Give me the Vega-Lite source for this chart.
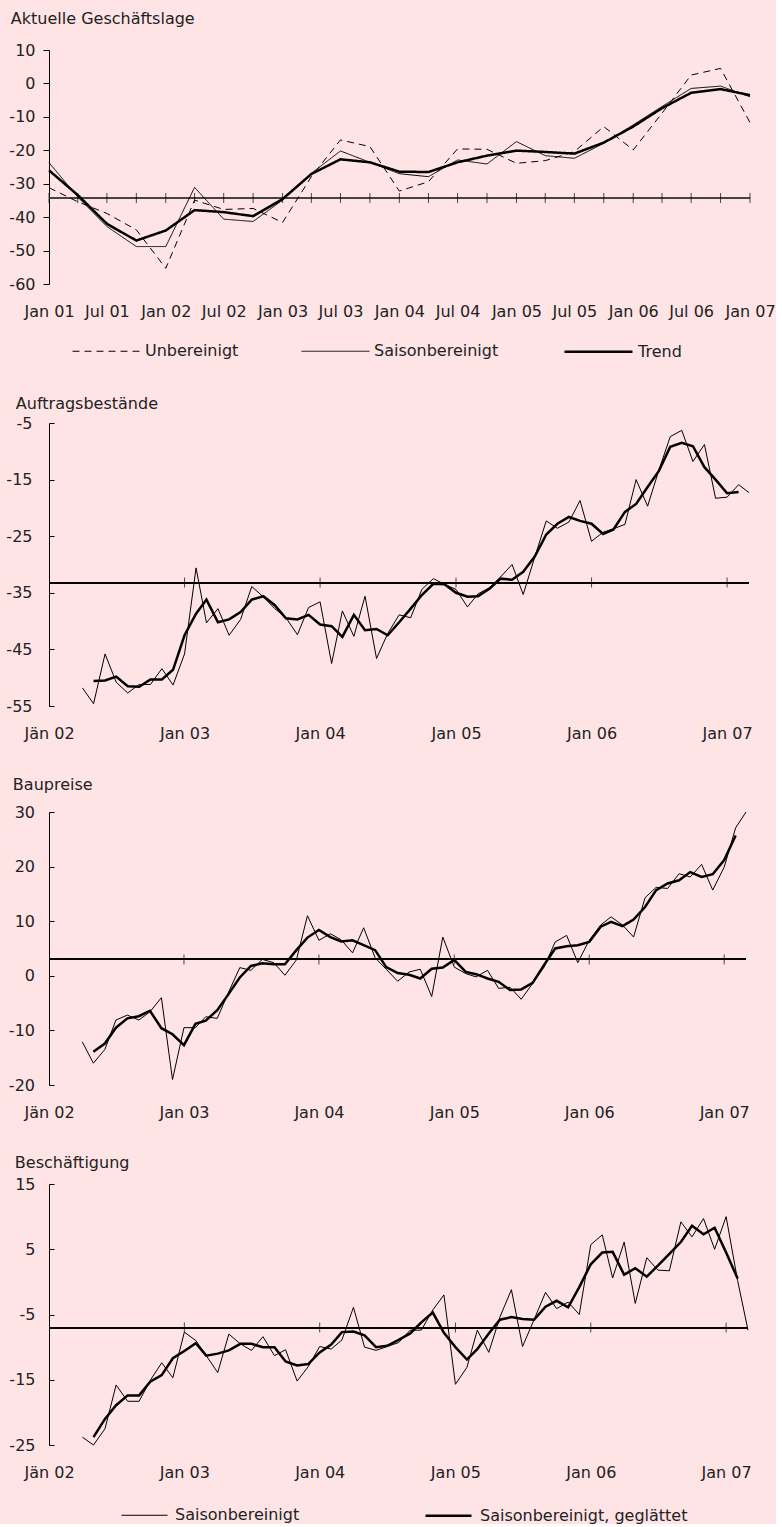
{
  "$schema": "https://vega.github.io/schema/vega-lite/v6.json",
  "background": "#FFE4E6",
  "padding": {"left": 5, "top": 11, "right": 0, "bottom": 0},
  "config": {
    "font": "DejaVu Sans",
    "view": {"stroke": null},
    "axis": {"labelFontSize": 16, "labelColor": "#222", "grid": false, "labelFont": "DejaVu Sans", "tickCount": 30},
    "axisX": {"domain": false, "ticks": false, "labelPadding": 19, "labelFlush": false, "labelOverlap": false},
    "axisY": {"domainColor": "#000", "tickColor": "#000", "labelPadding": 8, "tickSize": 6, "labelOverlap": false},
    "title": {"fontSize": 16, "fontWeight": "normal", "color": "#222", "anchor": "start", "frame": "bounds", "font": "DejaVu Sans"},
    "legend": {"labelFontSize": 16, "labelColor": "#222", "symbolStrokeColor": "#000", "symbolType": "stroke", "labelFont": "DejaVu Sans", "labelLimit": 400}
  },
  "spacing": 36,
  "resolve": {"scale": {"strokeDash": "independent", "strokeWidth": "independent"}, "legend": {"strokeDash": "independent", "strokeWidth": "independent"}},
  "datasets": {
    "jahre": [{"d": "2003-01-01"}, {"d": "2004-01-01"}, {"d": "2005-01-01"}, {"d": "2006-01-01"}, {"d": "2007-01-01"}],
    "lage": [
      {"d": "2001-01-01", "unb": -31.2, "sa": -23.7, "tr": -26.0},
      {"d": "2001-04-01", "unb": -35.4, "sa": -34.0, "tr": -33.4},
      {"d": "2001-07-01", "unb": -38.9, "sa": -42.8, "tr": -42.0},
      {"d": "2001-10-01", "unb": -43.8, "sa": -48.8, "tr": -47.0},
      {"d": "2002-01-01", "unb": -55.3, "sa": -48.8, "tr": -44.0},
      {"d": "2002-04-01", "unb": -34.9, "sa": -31.1, "tr": -37.9},
      {"d": "2002-07-01", "unb": -37.7, "sa": -40.6, "tr": -38.5},
      {"d": "2002-10-01", "unb": -37.4, "sa": -41.3, "tr": -39.7},
      {"d": "2003-01-01", "unb": -41.6, "sa": -34.9, "tr": -34.6},
      {"d": "2003-04-01", "unb": -27.9, "sa": -26.9, "tr": -27.1},
      {"d": "2003-07-01", "unb": -16.9, "sa": -20.2, "tr": -22.7},
      {"d": "2003-10-01", "unb": -18.9, "sa": -23.6, "tr": -23.6},
      {"d": "2004-01-01", "unb": -32.2, "sa": -27.0, "tr": -26.4},
      {"d": "2004-04-01", "unb": -29.4, "sa": -27.9, "tr": -26.5},
      {"d": "2004-07-01", "unb": -19.6, "sa": -22.9, "tr": -23.6},
      {"d": "2004-10-01", "unb": -19.7, "sa": -24.1, "tr": -21.6},
      {"d": "2005-01-01", "unb": -23.9, "sa": -17.4, "tr": -20.1},
      {"d": "2005-04-01", "unb": -23.1, "sa": -21.6, "tr": -20.5},
      {"d": "2005-07-01", "unb": -20.4, "sa": -22.4, "tr": -21.0},
      {"d": "2005-10-01", "unb": -12.9, "sa": -17.9, "tr": -17.7},
      {"d": "2006-01-01", "unb": -19.9, "sa": -12.4, "tr": -12.9},
      {"d": "2006-04-01", "unb": -8.9, "sa": -6.9, "tr": -7.4},
      {"d": "2006-07-01", "unb": 2.5, "sa": -1.5, "tr": -2.8},
      {"d": "2006-10-01", "unb": 4.5, "sa": -0.8, "tr": -1.7},
      {"d": "2007-01-01", "unb": -11.7, "sa": -4.0, "tr": -3.5}
    ],
    "auftr": [
      {"d": "2002-04-01", "sa": -51.8, "gl": null},
      {"d": "2002-05-01", "sa": -54.6, "gl": -50.6},
      {"d": "2002-06-01", "sa": -45.8, "gl": -50.5},
      {"d": "2002-07-01", "sa": -50.8, "gl": -49.8},
      {"d": "2002-08-01", "sa": -52.7, "gl": -51.5},
      {"d": "2002-09-01", "sa": -51.2, "gl": -51.6},
      {"d": "2002-10-01", "sa": -51.2, "gl": -50.3},
      {"d": "2002-11-01", "sa": -48.4, "gl": -50.3},
      {"d": "2002-12-01", "sa": -51.3, "gl": -48.6},
      {"d": "2003-01-01", "sa": -45.8, "gl": -42.5},
      {"d": "2003-02-01", "sa": -30.6, "gl": -38.7},
      {"d": "2003-03-01", "sa": -40.3, "gl": -36.2},
      {"d": "2003-04-01", "sa": -37.8, "gl": -40.2},
      {"d": "2003-05-01", "sa": -42.5, "gl": -39.7},
      {"d": "2003-06-01", "sa": -39.7, "gl": -38.4},
      {"d": "2003-07-01", "sa": -33.9, "gl": -36.2},
      {"d": "2003-08-01", "sa": -35.7, "gl": -35.6},
      {"d": "2003-09-01", "sa": -37.8, "gl": -37.2},
      {"d": "2003-10-01", "sa": -39.4, "gl": -39.5},
      {"d": "2003-11-01", "sa": -42.4, "gl": -39.7},
      {"d": "2003-12-01", "sa": -37.6, "gl": -38.9},
      {"d": "2004-01-01", "sa": -36.6, "gl": -40.6},
      {"d": "2004-02-01", "sa": -47.5, "gl": -40.9},
      {"d": "2004-03-01", "sa": -38.2, "gl": -42.8},
      {"d": "2004-04-01", "sa": -42.7, "gl": -38.9},
      {"d": "2004-05-01", "sa": -35.6, "gl": -41.6},
      {"d": "2004-06-01", "sa": -46.6, "gl": -41.4},
      {"d": "2004-07-01", "sa": -42.2, "gl": -42.5},
      {"d": "2004-08-01", "sa": -38.9, "gl": -40.2},
      {"d": "2004-09-01", "sa": -39.4, "gl": -37.8},
      {"d": "2004-10-01", "sa": -34.4, "gl": -35.4},
      {"d": "2004-11-01", "sa": -32.5, "gl": -33.4},
      {"d": "2004-12-01", "sa": -33.5, "gl": -33.5},
      {"d": "2005-01-01", "sa": -34.4, "gl": -35.0},
      {"d": "2005-02-01", "sa": -37.5, "gl": -35.7},
      {"d": "2005-03-01", "sa": -35.2, "gl": -35.6},
      {"d": "2005-04-01", "sa": -34.1, "gl": -34.3},
      {"d": "2005-05-01", "sa": -32.2, "gl": -32.5},
      {"d": "2005-06-01", "sa": -30.0, "gl": -32.7},
      {"d": "2005-07-01", "sa": -35.3, "gl": -31.3},
      {"d": "2005-08-01", "sa": -28.7, "gl": -28.6},
      {"d": "2005-09-01", "sa": -22.3, "gl": -24.7},
      {"d": "2005-10-01", "sa": -23.6, "gl": -22.8},
      {"d": "2005-11-01", "sa": -22.5, "gl": -21.6},
      {"d": "2005-12-01", "sa": -18.7, "gl": -22.3},
      {"d": "2006-01-01", "sa": -25.9, "gl": -22.8},
      {"d": "2006-02-01", "sa": -24.3, "gl": -24.6},
      {"d": "2006-03-01", "sa": -23.7, "gl": -23.8},
      {"d": "2006-04-01", "sa": -22.9, "gl": -20.7},
      {"d": "2006-05-01", "sa": -15.0, "gl": -19.3},
      {"d": "2006-06-01", "sa": -19.7, "gl": -16.3},
      {"d": "2006-07-01", "sa": -13.4, "gl": -13.5},
      {"d": "2006-08-01", "sa": -7.4, "gl": -9.2},
      {"d": "2006-09-01", "sa": -6.3, "gl": -8.5},
      {"d": "2006-10-01", "sa": -11.8, "gl": -9.1},
      {"d": "2006-11-01", "sa": -8.8, "gl": -12.8},
      {"d": "2006-12-01", "sa": -18.3, "gl": -15.0},
      {"d": "2007-01-01", "sa": -18.1, "gl": -17.4},
      {"d": "2007-02-01", "sa": -15.9, "gl": -17.2},
      {"d": "2007-03-01", "sa": -17.3, "gl": null}
    ],
    "bau": [
      {"d": "2002-04-01", "sa": -12.1, "gl": null},
      {"d": "2002-05-01", "sa": -16.0, "gl": -13.9},
      {"d": "2002-06-01", "sa": -13.5, "gl": -12.4},
      {"d": "2002-07-01", "sa": -8.1, "gl": -9.5},
      {"d": "2002-08-01", "sa": -7.2, "gl": -7.8},
      {"d": "2002-09-01", "sa": -8.1, "gl": -7.4},
      {"d": "2002-10-01", "sa": -6.6, "gl": -6.4},
      {"d": "2002-11-01", "sa": -4.0, "gl": -9.6},
      {"d": "2002-12-01", "sa": -19.0, "gl": -10.7},
      {"d": "2003-01-01", "sa": -9.5, "gl": -12.7},
      {"d": "2003-02-01", "sa": -9.5, "gl": -8.8},
      {"d": "2003-03-01", "sa": -7.5, "gl": -8.2},
      {"d": "2003-04-01", "sa": -7.8, "gl": -6.3},
      {"d": "2003-05-01", "sa": -3.1, "gl": -3.4},
      {"d": "2003-06-01", "sa": 1.5, "gl": -0.3},
      {"d": "2003-07-01", "sa": 1.0, "gl": 1.8},
      {"d": "2003-08-01", "sa": 3.0, "gl": 2.3},
      {"d": "2003-09-01", "sa": 2.4, "gl": 2.1},
      {"d": "2003-10-01", "sa": 0.1, "gl": 2.1},
      {"d": "2003-11-01", "sa": 2.9, "gl": 4.7},
      {"d": "2003-12-01", "sa": 11.0, "gl": 7.0},
      {"d": "2004-01-01", "sa": 6.5, "gl": 8.4},
      {"d": "2004-02-01", "sa": 7.7, "gl": 7.1},
      {"d": "2004-03-01", "sa": 6.6, "gl": 6.3},
      {"d": "2004-04-01", "sa": 4.2, "gl": 6.5},
      {"d": "2004-05-01", "sa": 8.8, "gl": 5.6},
      {"d": "2004-06-01", "sa": 3.3, "gl": 4.7},
      {"d": "2004-07-01", "sa": 1.2, "gl": 1.6},
      {"d": "2004-08-01", "sa": -1.0, "gl": 0.5},
      {"d": "2004-09-01", "sa": 0.7, "gl": 0.2},
      {"d": "2004-10-01", "sa": 1.2, "gl": -0.5},
      {"d": "2004-11-01", "sa": -3.8, "gl": 1.3},
      {"d": "2004-12-01", "sa": 7.1, "gl": 1.5},
      {"d": "2005-01-01", "sa": 1.6, "gl": 2.9},
      {"d": "2005-02-01", "sa": 0.4, "gl": 0.7},
      {"d": "2005-03-01", "sa": -0.2, "gl": 0.3},
      {"d": "2005-04-01", "sa": 1.0, "gl": -0.5},
      {"d": "2005-05-01", "sa": -2.3, "gl": -1.1},
      {"d": "2005-06-01", "sa": -2.1, "gl": -2.6},
      {"d": "2005-07-01", "sa": -4.3, "gl": -2.5},
      {"d": "2005-08-01", "sa": -1.4, "gl": -1.3},
      {"d": "2005-09-01", "sa": 1.6, "gl": 2.0},
      {"d": "2005-10-01", "sa": 6.2, "gl": 5.0},
      {"d": "2005-11-01", "sa": 7.4, "gl": 5.4},
      {"d": "2005-12-01", "sa": 2.4, "gl": 5.6},
      {"d": "2006-01-01", "sa": 6.5, "gl": 6.2},
      {"d": "2006-02-01", "sa": 9.3, "gl": 9.0},
      {"d": "2006-03-01", "sa": 10.8, "gl": 9.9},
      {"d": "2006-04-01", "sa": 9.3, "gl": 9.1},
      {"d": "2006-05-01", "sa": 7.1, "gl": 10.3},
      {"d": "2006-06-01", "sa": 14.3, "gl": 12.6},
      {"d": "2006-07-01", "sa": 16.2, "gl": 15.7},
      {"d": "2006-08-01", "sa": 16.0, "gl": 16.9},
      {"d": "2006-09-01", "sa": 18.7, "gl": 17.5},
      {"d": "2006-10-01", "sa": 18.1, "gl": 19.0},
      {"d": "2006-11-01", "sa": 20.4, "gl": 18.1},
      {"d": "2006-12-01", "sa": 15.7, "gl": 18.6},
      {"d": "2007-01-01", "sa": 19.9, "gl": 21.2},
      {"d": "2007-02-01", "sa": 27.1, "gl": 25.7},
      {"d": "2007-03-01", "sa": 30.0, "gl": null}
    ],
    "besch": [
      {"d": "2002-04-01", "sa": -23.8, "gl": null},
      {"d": "2002-05-01", "sa": -25.0, "gl": -23.8},
      {"d": "2002-06-01", "sa": -22.5, "gl": -21.0},
      {"d": "2002-07-01", "sa": -15.8, "gl": -18.9},
      {"d": "2002-08-01", "sa": -18.3, "gl": -17.4},
      {"d": "2002-09-01", "sa": -18.3, "gl": -17.4},
      {"d": "2002-10-01", "sa": -15.1, "gl": -15.3},
      {"d": "2002-11-01", "sa": -12.4, "gl": -14.3},
      {"d": "2002-12-01", "sa": -14.7, "gl": -11.7},
      {"d": "2003-01-01", "sa": -7.7, "gl": -10.6},
      {"d": "2003-02-01", "sa": -9.0, "gl": -9.4},
      {"d": "2003-03-01", "sa": -11.3, "gl": -11.3},
      {"d": "2003-04-01", "sa": -13.9, "gl": -11.0},
      {"d": "2003-05-01", "sa": -8.0, "gl": -10.5},
      {"d": "2003-06-01", "sa": -9.5, "gl": -9.5},
      {"d": "2003-07-01", "sa": -10.5, "gl": -9.5},
      {"d": "2003-08-01", "sa": -8.4, "gl": -10.0},
      {"d": "2003-09-01", "sa": -11.3, "gl": -10.0},
      {"d": "2003-10-01", "sa": -10.4, "gl": -12.2},
      {"d": "2003-11-01", "sa": -15.2, "gl": -12.8},
      {"d": "2003-12-01", "sa": -13.0, "gl": -12.6},
      {"d": "2004-01-01", "sa": -9.9, "gl": -10.8},
      {"d": "2004-02-01", "sa": -10.3, "gl": -9.6},
      {"d": "2004-03-01", "sa": -8.9, "gl": -7.7},
      {"d": "2004-04-01", "sa": -3.9, "gl": -7.6},
      {"d": "2004-05-01", "sa": -10.0, "gl": -8.2},
      {"d": "2004-06-01", "sa": -10.5, "gl": -10.0},
      {"d": "2004-07-01", "sa": -9.9, "gl": -9.8},
      {"d": "2004-08-01", "sa": -9.3, "gl": -8.9},
      {"d": "2004-09-01", "sa": -7.4, "gl": -7.9},
      {"d": "2004-10-01", "sa": -7.4, "gl": -6.2},
      {"d": "2004-11-01", "sa": -4.3, "gl": -4.7},
      {"d": "2004-12-01", "sa": -2.0, "gl": -7.8},
      {"d": "2005-01-01", "sa": -15.7, "gl": -10.0},
      {"d": "2005-02-01", "sa": -13.1, "gl": -11.9},
      {"d": "2005-03-01", "sa": -7.4, "gl": -10.3},
      {"d": "2005-04-01", "sa": -10.8, "gl": -7.9},
      {"d": "2005-05-01", "sa": -5.4, "gl": -5.8},
      {"d": "2005-06-01", "sa": -1.2, "gl": -5.4},
      {"d": "2005-07-01", "sa": -9.9, "gl": -5.7},
      {"d": "2005-08-01", "sa": -5.8, "gl": -5.8},
      {"d": "2005-09-01", "sa": -1.6, "gl": -3.8},
      {"d": "2005-10-01", "sa": -4.1, "gl": -2.9},
      {"d": "2005-11-01", "sa": -3.1, "gl": -3.9},
      {"d": "2005-12-01", "sa": -5.0, "gl": -0.8},
      {"d": "2006-01-01", "sa": 5.7, "gl": 2.7},
      {"d": "2006-02-01", "sa": 7.2, "gl": 4.5},
      {"d": "2006-03-01", "sa": 0.6, "gl": 4.6},
      {"d": "2006-04-01", "sa": 6.1, "gl": 1.1},
      {"d": "2006-05-01", "sa": -3.3, "gl": 2.1},
      {"d": "2006-06-01", "sa": 3.7, "gl": 0.8},
      {"d": "2006-07-01", "sa": 1.8, "gl": 2.5},
      {"d": "2006-08-01", "sa": 1.7, "gl": 4.3},
      {"d": "2006-09-01", "sa": 9.2, "gl": 6.1},
      {"d": "2006-10-01", "sa": 6.9, "gl": 8.6},
      {"d": "2006-11-01", "sa": 9.7, "gl": 7.3},
      {"d": "2006-12-01", "sa": 5.0, "gl": 8.3},
      {"d": "2007-01-01", "sa": 10.0, "gl": 4.5},
      {"d": "2007-02-01", "sa": 0.2, "gl": 0.5},
      {"d": "2007-03-01", "sa": -7.4, "gl": null}
    ]
  },
  "vconcat": [
    {
      "title": {"text": "Aktuelle Geschäftslage", "offset": 15, "dx": 2},
      "width": 701,
      "height": 234,
      "data": {"name": "lage"},
      "layer": [
        {"mark": {"type": "rule", "color": "#444", "strokeWidth": 1.5}, "encoding": {"y": {"datum": -34.3, "type": "quantitative"}}},
        {"mark": {"type": "tick", "orient": "vertical", "size": 10, "thickness": 1, "color": "#000"},
         "encoding": {"x": {"field": "d", "type": "temporal", "title": null}, "y": {"datum": -34.3, "type": "quantitative"}}},
        {
          "transform": [{"fold": ["unb", "sa", "tr"], "as": ["series", "value"]}],
          "mark": {"type": "line", "color": "#000"},
          "encoding": {
            "x": {"field": "d", "type": "temporal", "title": null,
              "scale": {"type": "utc", "nice": false, "domain": [{"year": 2001, "month": 1, "date": 1, "utc": true}, {"year": 2007, "month": 1, "date": 1, "utc": true}]},
              "axis": {"title": null, "tickCount": 30, "labelOverlap": false, "labelExpr": "utcFormat(datum.value, '%b %y')",
                "values": [
                  {"year": 2001, "month": 1, "date": 1, "utc": true}, {"year": 2001, "month": 7, "date": 1, "utc": true},
                  {"year": 2002, "month": 1, "date": 1, "utc": true}, {"year": 2002, "month": 7, "date": 1, "utc": true},
                  {"year": 2003, "month": 1, "date": 1, "utc": true}, {"year": 2003, "month": 7, "date": 1, "utc": true},
                  {"year": 2004, "month": 1, "date": 1, "utc": true}, {"year": 2004, "month": 7, "date": 1, "utc": true},
                  {"year": 2005, "month": 1, "date": 1, "utc": true}, {"year": 2005, "month": 7, "date": 1, "utc": true},
                  {"year": 2006, "month": 1, "date": 1, "utc": true}, {"year": 2006, "month": 7, "date": 1, "utc": true},
                  {"year": 2007, "month": 1, "date": 1, "utc": true}]}},
            "y": {"field": "value", "type": "quantitative", "title": null, "scale": {"domain": [-60, 10], "nice": false, "zero": false},
              "axis": {"title": null, "tickCount": 30, "labelOverlap": false, "labelExpr": "'' + datum.value", "values": [10, 0, -10, -20, -30, -40, -50, -60]}},
            "strokeDash": {"field": "series", "type": "nominal",
              "scale": {"domain": ["unb", "sa", "tr"], "range": [[7, 5], [1, 0], [1, 0]]},
              "legend": {"title": null, "orient": "none", "legendX": 23, "legendY": 266, "direction": "horizontal", "symbolSize": 4624, "labelOffset": 4, "columnPadding": 60,
                "labelExpr": "datum.label == 'unb' ? 'Unbereinigt' : datum.label == 'sa' ? 'Saisonbereinigt' : 'Trend'"}},
            "strokeWidth": {"field": "series", "type": "nominal",
              "scale": {"type": "ordinal", "domain": ["unb", "sa", "tr"], "range": [1, 1, 2.5]},
              "legend": {"title": null, "orient": "none", "legendX": 23, "legendY": 266, "direction": "horizontal", "symbolSize": 4624, "labelOffset": 4, "columnPadding": 60,
                "labelExpr": "datum.label == 'unb' ? 'Unbereinigt' : datum.label == 'sa' ? 'Saisonbereinigt' : 'Trend'"}}
          }
        }
      ]
    },
    {
      "spacing": 35,
      "resolve": {"scale": {"strokeWidth": "independent"}, "legend": {"strokeWidth": "independent"}},
      "vconcat": [
        {
          "title": {"text": "Auftragsbestände", "offset": 3, "dx": 10},
          "width": 700,
          "height": 283,
          "layer": [
            {"data": {"name": "auftr"}, "mark": {"type": "rule", "color": "#000", "strokeWidth": 1}, "encoding": {"y": {"datum": -33.2, "type": "quantitative"}}},
            {"data": {"name": "jahre"}, "mark": {"type": "tick", "orient": "vertical", "size": 10, "thickness": 1, "color": "#000"},
             "encoding": {"x": {"field": "d", "type": "temporal", "title": null}, "y": {"datum": -33.2, "type": "quantitative"}}},
            {
              "data": {"name": "auftr"},
              "transform": [{"fold": ["sa", "gl"], "as": ["series", "value"]}],
              "mark": {"type": "line", "color": "#000"},
              "encoding": {
                "x": {"field": "d", "type": "temporal", "title": null,
                  "scale": {"type": "utc", "nice": false, "domain": [{"year": 2002, "month": 1, "date": 1, "utc": true}, {"year": 2007, "month": 3, "date": 1, "utc": true}]},
                  "axis": {"title": null, "tickCount": 30, "labelOverlap": false, "labelExpr": "utcyear(datum.value) == 2002 ? 'Jän 02' : utcFormat(datum.value, '%b %y')",
                    "values": [{"year": 2002, "month": 1, "date": 1, "utc": true}, {"year": 2003, "month": 1, "date": 1, "utc": true}, {"year": 2004, "month": 1, "date": 1, "utc": true}, {"year": 2005, "month": 1, "date": 1, "utc": true}, {"year": 2006, "month": 1, "date": 1, "utc": true}, {"year": 2007, "month": 1, "date": 1, "utc": true}]}},
                "y": {"field": "value", "type": "quantitative", "title": null, "scale": {"domain": [-55, -5], "nice": false, "zero": false},
                  "axis": {"title": null, "tickCount": 30, "labelOverlap": false, "labelExpr": "'' + datum.value", "values": [-5, -15, -25, -35, -45, -55], "tickSize": -5, "labelPadding": 22}},
                "strokeWidth": {"field": "series", "type": "nominal", "scale": {"type": "ordinal", "domain": ["sa", "gl"], "range": [1, 2.5]}, "legend": null}
              }
            }
          ]
        },
        {
          "title": {"text": "Baupreise", "offset": 11.4, "dx": 4.5},
          "width": 697,
          "height": 273,
          "layer": [
            {"data": {"name": "bau"}, "mark": {"type": "rule", "color": "#000", "strokeWidth": 1}, "encoding": {"y": {"datum": 3.0, "type": "quantitative"}}},
            {"data": {"name": "jahre"}, "mark": {"type": "tick", "orient": "vertical", "size": 10, "thickness": 1, "color": "#000"},
             "encoding": {"x": {"field": "d", "type": "temporal", "title": null}, "y": {"datum": 3.0, "type": "quantitative"}}},
            {
              "data": {"name": "bau"},
              "transform": [{"fold": ["sa", "gl"], "as": ["series", "value"]}],
              "mark": {"type": "line", "color": "#000"},
              "encoding": {
                "x": {"field": "d", "type": "temporal", "title": null,
                  "scale": {"type": "utc", "nice": false, "domain": [{"year": 2002, "month": 1, "date": 1, "utc": true}, {"year": 2007, "month": 3, "date": 1, "utc": true}]},
                  "axis": {"title": null, "tickCount": 30, "labelOverlap": false, "labelExpr": "utcyear(datum.value) == 2002 ? 'Jän 02' : utcFormat(datum.value, '%b %y')",
                    "values": [{"year": 2002, "month": 1, "date": 1, "utc": true}, {"year": 2003, "month": 1, "date": 1, "utc": true}, {"year": 2004, "month": 1, "date": 1, "utc": true}, {"year": 2005, "month": 1, "date": 1, "utc": true}, {"year": 2006, "month": 1, "date": 1, "utc": true}, {"year": 2007, "month": 1, "date": 1, "utc": true}]}},
                "y": {"field": "value", "type": "quantitative", "title": null, "scale": {"domain": [-20, 30], "nice": false, "zero": false},
                  "axis": {"title": null, "tickCount": 30, "labelOverlap": false, "labelExpr": "'' + datum.value", "values": [30, 20, 10, 0, -10, -20], "tickSize": -5, "labelPadding": 19.5}},
                "strokeWidth": {"field": "series", "type": "nominal", "scale": {"type": "ordinal", "domain": ["sa", "gl"], "range": [1, 2.5]}, "legend": null}
              }
            }
          ]
        },
        {
          "title": {"text": "Beschäftigung", "offset": 4.6, "dx": 6},
          "width": 699,
          "height": 261,
          "layer": [
            {"data": {"name": "besch"}, "mark": {"type": "rule", "color": "#000", "strokeWidth": 1}, "encoding": {"y": {"datum": -7.0, "type": "quantitative"}}},
            {"data": {"name": "jahre"}, "mark": {"type": "tick", "orient": "vertical", "size": 10, "thickness": 1, "color": "#000"},
             "encoding": {"x": {"field": "d", "type": "temporal", "title": null}, "y": {"datum": -7.0, "type": "quantitative"}}},
            {
              "data": {"name": "besch"},
              "transform": [{"fold": ["sa", "gl"], "as": ["series", "value"]}],
              "mark": {"type": "line", "color": "#000"},
              "encoding": {
                "x": {"field": "d", "type": "temporal", "title": null,
                  "scale": {"type": "utc", "nice": false, "domain": [{"year": 2002, "month": 1, "date": 1, "utc": true}, {"year": 2007, "month": 3, "date": 1, "utc": true}]},
                  "axis": {"title": null, "tickCount": 30, "labelOverlap": false, "labelExpr": "utcyear(datum.value) == 2002 ? 'Jän 02' : utcFormat(datum.value, '%b %y')",
                    "values": [{"year": 2002, "month": 1, "date": 1, "utc": true}, {"year": 2003, "month": 1, "date": 1, "utc": true}, {"year": 2004, "month": 1, "date": 1, "utc": true}, {"year": 2005, "month": 1, "date": 1, "utc": true}, {"year": 2006, "month": 1, "date": 1, "utc": true}, {"year": 2007, "month": 1, "date": 1, "utc": true}]}},
                "y": {"field": "value", "type": "quantitative", "title": null, "scale": {"domain": [-25, 15], "nice": false, "zero": false},
                  "axis": {"title": null, "tickCount": 30, "labelOverlap": false, "labelExpr": "'' + datum.value", "values": [15, 5, -5, -15, -25], "tickSize": -5, "labelPadding": 19}},
                "strokeWidth": {"field": "series", "type": "nominal", "scale": {"type": "ordinal", "domain": ["sa", "gl"], "range": [1, 2.5]},
                  "legend": {"title": null, "orient": "none", "legendX": 72, "legendY": 307, "direction": "horizontal", "symbolSize": 2116, "labelOffset": 7, "columnPadding": 120,
                    "labelExpr": "datum.label == 'sa' ? 'Saisonbereinigt' : 'Saisonbereinigt, geglättet'"}}
              }
            }
          ]
        }
      ]
    }
  ]
}
